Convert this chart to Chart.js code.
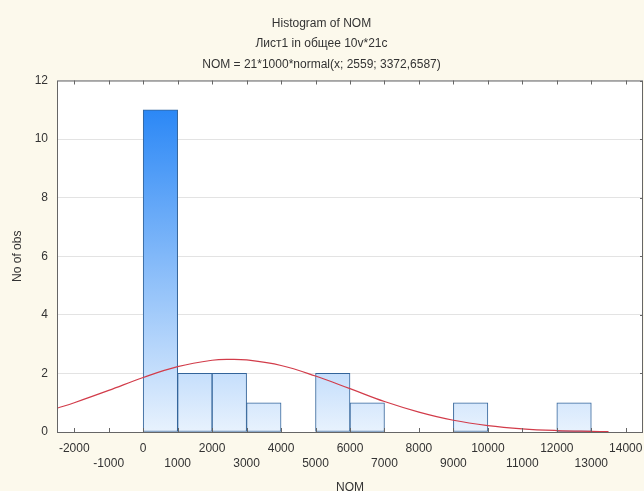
<!DOCTYPE html>
<html>
<head>
<meta charset="utf-8">
<script src="https://cdn.jsdelivr.net/npm/chart.js@4.4.1/dist/chart.umd.min.js"></script>
<style>
  html, body { margin: 0; padding: 0; background: #fcf9ec; }
  #wrap { width: 644px; height: 491px; }
</style>
</head>
<body>
<div id="wrap"><canvas id="hist"></canvas></div>
<script>
// histogram bins (start of each 1000-wide bin) and counts
const binStarts = [0, 1000, 2000, 3000, 5000, 6000, 9000, 12000];
const binCounts = [11, 2, 2, 1, 2, 1, 1, 1];
const binWidth = 1000;

// fitted normal curve
const curveX = [-2500, -2000, -1000, 0, 1000, 2000, 2500, 3000, 4000, 5000, 6000, 7000, 8000, 9000, 10000, 11000, 12000, 13000, 13500];
const curveY = [0.81, 1.00, 1.42, 1.86, 2.23, 2.45, 2.48, 2.46, 2.27, 1.91, 1.48, 1.04, 0.68, 0.40, 0.22, 0.11, 0.05, 0.02, 0.01];

// axis ticks
const xTicks = [-2000, -1000, 0, 1000, 2000, 3000, 4000, 5000, 6000, 7000, 8000, 9000, 10000, 11000, 12000, 13000, 14000];
const yTicks = [0, 2, 4, 6, 8, 10, 12];

const textColor = '#333333';
const font = { family: "'Liberation Sans', Arial, sans-serif", size: 12 };

// paints cream background, white plot area, frame and inner tick marks
const frame = {
    id: 'frame',
    beforeDraw(chart) {
        const { ctx, chartArea: a } = chart;
        ctx.save();
        ctx.fillStyle = '#fcf9ec';
        ctx.fillRect(0, 0, chart.width, chart.height);
        ctx.fillStyle = '#ffffff';
        ctx.fillRect(a.left, a.top, a.right - a.left, a.bottom - a.top);
        ctx.restore();
    },
    afterDatasetsDraw(chart) {
        const { ctx, chartArea: a, scales } = chart;
        ctx.save();
        ctx.strokeStyle = '#666666';
        ctx.lineWidth = 1;
        ctx.strokeRect(a.left + 0.5, a.top + 0.5, a.right - a.left - 1, a.bottom - a.top);
        ctx.beginPath();
        xTicks.forEach(v => {
            const px = Math.round(scales.x.getPixelForValue(v)) + 0.5;
            ctx.moveTo(px, a.bottom);
            ctx.lineTo(px, a.bottom - 4);
            ctx.moveTo(px, a.top);
            ctx.lineTo(px, a.top + 4);
        });
        yTicks.forEach(v => {
            const py = Math.round(scales.y.getPixelForValue(v)) + 0.5;
            ctx.moveTo(a.right, py);
            ctx.lineTo(a.right - 3, py);
        });
        ctx.stroke();
        ctx.restore();
    }
};

function barGradient(context) {
    const { ctx, chartArea } = context.chart;
    if (!chartArea) return '#8fc1f8';
    const g = ctx.createLinearGradient(0, chartArea.top, 0, chartArea.bottom);
    g.addColorStop(0, '#1a7ef5');
    g.addColorStop(1, '#e8f2fd');
    return g;
}

const hist = document.getElementById('hist');
new Chart(hist, {
    type: 'bar',
    data: {
        datasets: [{
            type: 'line',
            order: 0,
            data: curveX.map((x, i) => ({ x: x, y: curveY[i] })),
            borderColor: '#d23c4a',
            borderWidth: 1.2,
            pointRadius: 0,
            tension: 0.4,
            fill: false
        }, {
            type: 'bar',
            order: 1,
            data: binStarts.map((s, i) => ({ x: s + binWidth / 2, y: binCounts[i] })),
            backgroundColor: barGradient,
            borderColor: '#33649a',
            borderWidth: 1,
            barPercentage: 1,
            categoryPercentage: 1,
            borderSkipped: false
        }]
    },
    options: {
        responsive: true,
        maintainAspectRatio: false,
        animation: false,
        layout: { padding: { top: 0, right: 1, bottom: 0, left: 0 } },
        scales: {
            x: {
                type: 'linear',
                offset: false,
                min: -2500,
                max: 14500,
                afterBuildTicks: scale => { scale.ticks = xTicks.map(v => ({ value: v })); },
                afterFit: scale => { scale.paddingLeft = 0; scale.paddingRight = 0; scale.height = 59; },
                grid: { display: false, drawTicks: false },
                border: { display: false },
                ticks: {
                    autoSkip: false,
                    maxRotation: 0,
                    minRotation: 0,
                    padding: 9,
                    color: textColor,
                    font: { ...font, lineHeight: '15px' },
                    callback: v => (Math.abs(v / 1000) % 2 === 0 ? [String(v)] : ['', String(v)])
                },
                title: {
                    display: true,
                    text: 'NOM',
                    color: textColor,
                    font: { ...font, lineHeight: '12px' },
                    padding: { top: 11, bottom: -3 }
                }
            },
            y: {
                min: 0,
                max: 12,
                afterBuildTicks: scale => { scale.ticks = yTicks.map(v => ({ value: v })); },
                afterFit: scale => { scale.paddingTop = 0; scale.paddingBottom = 0; scale.width = 57; },
                grid: { color: '#e3e3e3', drawTicks: false },
                border: { display: false },
                ticks: { padding: 9, color: textColor, font: font },
                title: {
                    display: true,
                    text: 'No of obs',
                    color: textColor,
                    font: { ...font, lineHeight: '15px' },
                    padding: { top: 10, bottom: 10 }
                }
            }
        },
        plugins: {
            legend: { display: false },
            tooltip: { enabled: false },
            title: {
                display: true,
                text: ['Histogram of NOM', 'Лист1 in общее 10v*21c', 'NOM = 21*1000*normal(x; 2559; 3372,6587)'],
                color: textColor,
                font: { ...font, weight: 'normal', lineHeight: '20.5px' },
                padding: { top: 13, bottom: 6 }
            }
        }
    },
    plugins: [frame]
});
</script>
</body>
</html>
